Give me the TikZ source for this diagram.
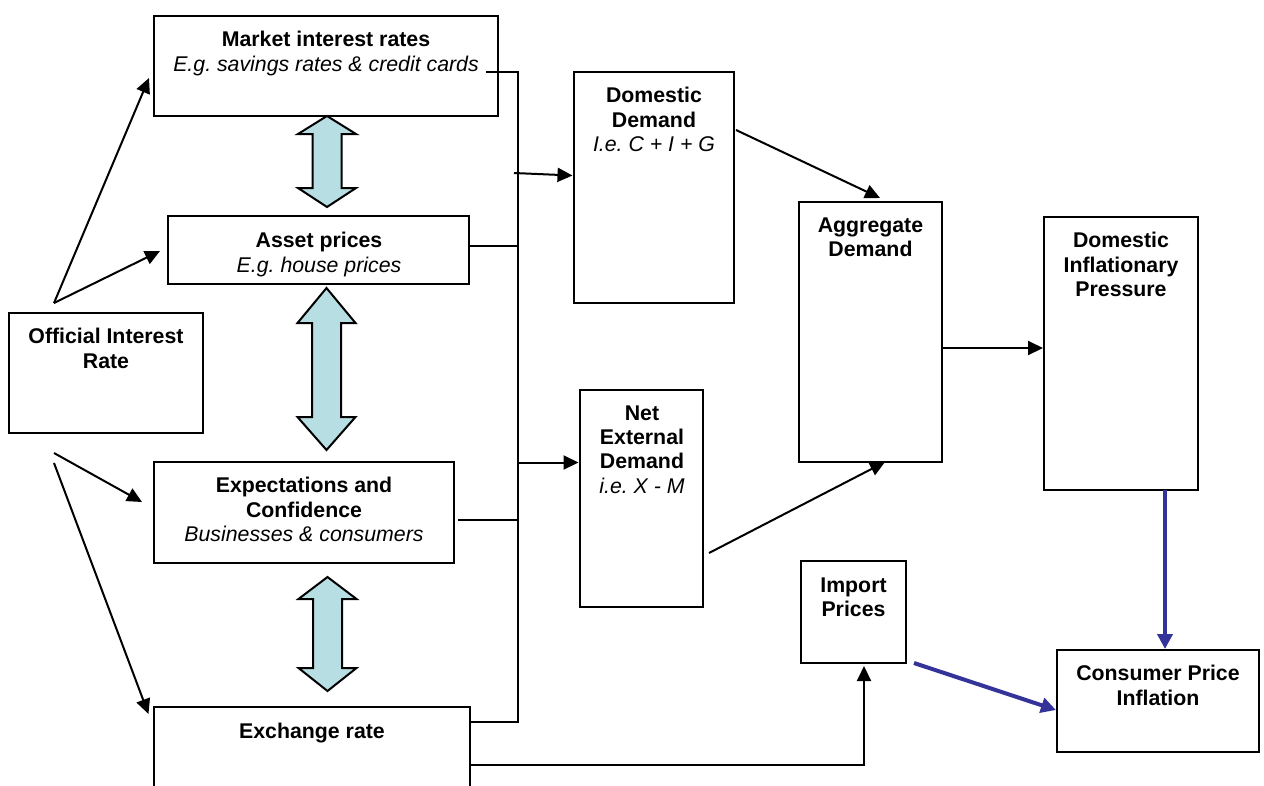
\documentclass[tikz,border=0pt]{standalone}
\usepackage{fontspec}
\setmainfont{Liberation Sans}
\usetikzlibrary{arrows.meta}
\definecolor{arrowfill}{RGB}{183,222,226}
\definecolor{bluearrow}{RGB}{51,51,153}
\frenchspacing
\newcommand{\vdblarrow}[5]{%
  \draw[blockarrow] (#1,#2) -- ({#1+29},#3) -- ({#1+14.5},#3) -- ({#1+14.5},#4) -- ({#1+29},#4)
    -- (#1,#5) -- ({#1-29},#4) -- ({#1-14.5},#4) -- ({#1-14.5},#3) -- ({#1-29},#3) -- cycle;}
\begin{document}
\begin{tikzpicture}[x=1pt,y=-1pt,
  box/.style={draw, line width=2pt, rectangle, inner sep=0pt, outer sep=0pt, anchor=north west},
  lbl/.style={anchor=north, inner sep=0pt, align=center, font=\fontsize{21.3}{24.3}\selectfont\bfseries},
  ln/.style={line width=2pt},
  arr/.style={-{Triangle[length=15pt,width=14pt]}, line width=2pt},
  barr/.style={-{Triangle[length=15pt,width=15pt]}, line width=4pt, draw=bluearrow, fill=bluearrow},
  blockarrow/.style={draw=black, line width=2pt, fill=arrowfill, line join=miter}]
\useasboundingbox (0,0) rectangle (1264,785);
\clip (0,0) rectangle (1264,785);
\fill[white] (0,0) rectangle (1264,785);

% boxes
\node[box, minimum width=344pt, minimum height=100pt] (market) at (154,16) {};
\node[box, minimum width=301pt, minimum height=68pt] (asset) at (168,216) {};
\node[box, minimum width=194pt, minimum height=120pt] (official) at (9,313) {};
\node[box, minimum width=300pt, minimum height=101pt] (expect) at (154,462) {};
\node[box, minimum width=316pt, minimum height=100pt] (exch) at (154,707) {};
\node[box, minimum width=160pt, minimum height=231pt] (dd) at (574,72) {};
\node[box, minimum width=123pt, minimum height=217pt] (ned) at (580,390) {};
\node[box, minimum width=143pt, minimum height=260pt] (ad) at (799,202) {};
\node[box, minimum width=154pt, minimum height=273pt] (dip) at (1044,217) {};
\node[box, minimum width=105pt, minimum height=102pt] (imp) at (801,561) {};
\node[box, minimum width=202pt, minimum height=102pt] (cpi) at (1057,650) {};

% labels
\node[lbl] (marketT) at (326,31.3) {Market interest rates\\{\mdseries\itshape E.g. savings rates \& credit cards}};
\node[lbl] (assetT) at (319,232.3) {Asset prices\\{\mdseries\itshape E.g. house prices}};
\node[lbl] (officialT) at (106,328.3) {Official Interest\\Rate};
\node[lbl] (expectT) at (304,477.3) {Expectations and\\Confidence\\{\mdseries\itshape Businesses \& consumers}};
\node[lbl] (exchT) at (312,723.3) {Exchange rate};
\node[lbl] (ddT) at (654,87.3) {Domestic\\Demand\\{\mdseries\itshape I.e. C + I + G}};
\node[lbl] (nedT) at (642,405.3) {Net\\External\\Demand\\{\mdseries\itshape i.e. X - M}};
\node[lbl] (adT) at (870.5,217.3) {Aggregate\\Demand};
\node[lbl] (dipT) at (1121,232.3) {Domestic\\Inflationary\\Pressure};
\node[lbl] (impT) at (853.5,577.3) {Import\\Prices};
\node[lbl] (cpiT) at (1158,665.3) {Consumer Price\\Inflation};

% block double arrows
\vdblarrow{327}{116}{134}{188}{207}
\vdblarrow{326.5}{288}{323}{417}{450}
\vdblarrow{327.5}{577}{599}{668}{691}

% coordinates
\coordinate (oA) at (54,303);
\coordinate (oB) at (54,453);
\coordinate (oC) at (54,463);
\coordinate (tMarket) at (149,78);
\coordinate (tAsset) at (160,251);
\coordinate (tExpect) at (142,502);
\coordinate (tExch) at (148.5,714);
\coordinate (mkS) at (486,72);
\coordinate (busTop) at (517.5,72);
\coordinate (busBot) at (517.5,722);
\coordinate (exchR) at (470,722);
\coordinate (assetR) at (469,246);
\coordinate (busA) at (517.5,246);
\coordinate (expR) at (458,520);
\coordinate (busE) at (517.5,520);
\coordinate (ddS) at (514,173);
\coordinate (ddE) at (572.5,175.5);
\coordinate (nedS) at (517.5,462.5);
\coordinate (nedE) at (578.5,462.5);
\coordinate (ddOut) at (736,130);
\coordinate (adIn1) at (880,198);
\coordinate (nedOut) at (709,553);
\coordinate (adIn2) at (885,462);
\coordinate (adOut) at (942,348);
\coordinate (dipIn) at (1043,348);
\coordinate (exchR2) at (470,765);
\coordinate (impCorner) at (864,765);
\coordinate (impIn) at (864,666);
\coordinate (dipOut) at (1165,490);
\coordinate (cpiIn) at (1165,649);
\coordinate (impOut) at (914,663);
\coordinate (cpiIn2) at (1056,710);

% connectors
\draw[arr] (oA) -- (tMarket);
\draw[arr] (oA) -- (tAsset);
\draw[arr] (oB) -- (tExpect);
\draw[arr] (oC) -- (tExch);
\draw[ln] (mkS) -- (busTop) -- (busBot) -- (exchR);
\draw[ln] (assetR) -- (busA);
\draw[ln] (expR) -- (busE);
\draw[arr] (ddS) -- (ddE);
\draw[arr] (nedS) -- (nedE);
\draw[arr] (ddOut) -- (adIn1);
\draw[arr] (nedOut) -- (adIn2);
\draw[arr] (adOut) -- (dipIn);
\draw[arr] (exchR2) -- (impCorner) -- (impIn);
\draw[barr] (dipOut) -- (cpiIn);
\draw[barr] (impOut) -- (cpiIn2);
\end{tikzpicture}
\end{document}
